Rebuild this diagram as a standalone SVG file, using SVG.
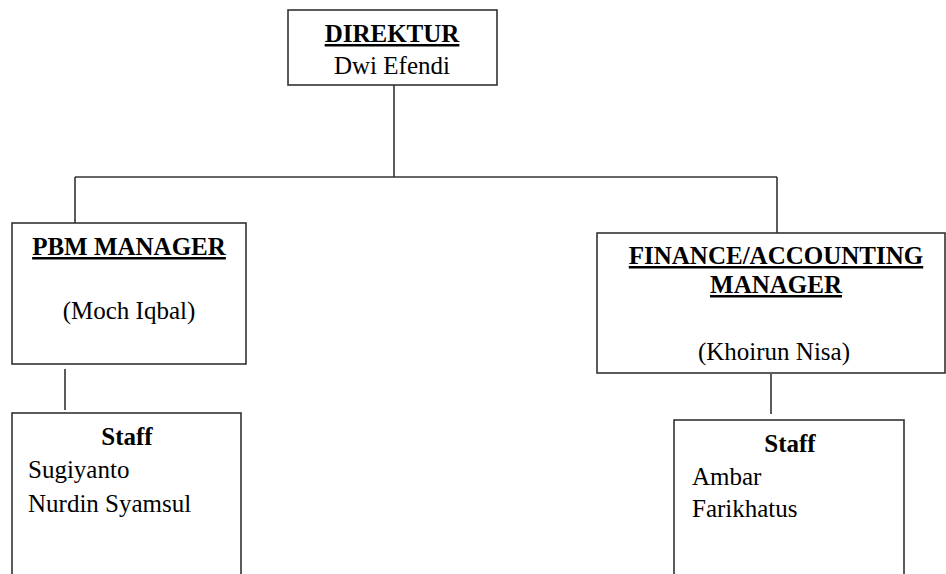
<svg xmlns="http://www.w3.org/2000/svg" width="946" height="574" viewBox="0 0 946 574">
<style>
.box{fill:#fff;stroke:#333;stroke-width:1.6}
.ln{stroke:#333;stroke-width:1.6;fill:none}
text{font-family:"Liberation Serif","Times New Roman",serif;font-size:25px;fill:#000}
.b{font-weight:bold}
.u{text-decoration:underline}
.c{text-anchor:middle}
</style>
<rect width="946" height="574" fill="#fff"/>
<g id="connectors">
<line class="ln" x1="394" y1="85" x2="394" y2="177"/>
<line class="ln" x1="75" y1="177" x2="777" y2="177"/>
<line class="ln" x1="75" y1="177" x2="75" y2="223"/>
<line class="ln" x1="777" y1="177" x2="777" y2="233"/>
<line class="ln" x1="65" y1="369" x2="65" y2="410"/>
<line class="ln" x1="771" y1="374" x2="771" y2="414"/>
</g>
<g id="direktur">
<rect class="box" x="288" y="10" width="209" height="75"/>
<text class="b u c" x="392" y="42">DIREKTUR</text>
<text class="c" x="392" y="74">Dwi Efendi</text>
</g>
<g id="pbm-manager">
<rect class="box" x="12" y="223" width="234" height="141"/>
<text class="b u c" x="129" y="255">PBM MANAGER</text>
<text class="c" x="129" y="319">(Moch Iqbal)</text>
</g>
<g id="finance-manager">
<rect class="box" x="597" y="233" width="348" height="140"/>
<text class="b u c" x="776" y="264">FINANCE/ACCOUNTING</text>
<text class="b u c" x="776" y="293">MANAGER</text>
<text class="c" x="774" y="360">(Khoirun Nisa)</text>
</g>
<g id="pbm-staff">
<rect class="box" x="12" y="413" width="229" height="170"/>
<text class="b c" x="127" y="445">Staff</text>
<text x="28" y="478">Sugiyanto</text>
<text x="28" y="512">Nurdin Syamsul</text>
</g>
<g id="finance-staff">
<rect class="box" x="674" y="420" width="230" height="170"/>
<text class="b c" x="790" y="452">Staff</text>
<text x="692" y="485">Ambar</text>
<text x="692" y="517">Farikhatus</text>
</g>
</svg>
